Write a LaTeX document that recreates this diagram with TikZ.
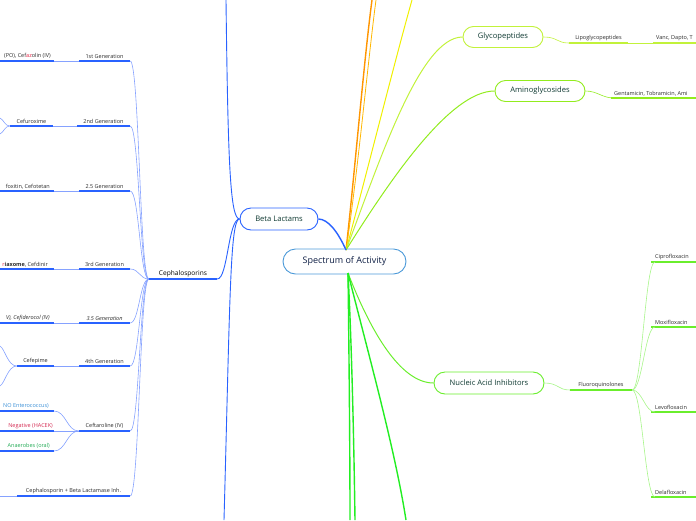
\documentclass[tikz,border=0pt]{standalone}
\usepackage{fontspec}
\setmainfont{Open Sans}
\usepackage{xcolor}
\definecolor{bl}{HTML}{2962FF}
\definecolor{bll}{HTML}{86A2FF}
\definecolor{ctrb}{HTML}{4E9BD9}
\definecolor{navy}{HTML}{0F1F45}
\definecolor{deep}{HTML}{0F3A32}
\definecolor{txt}{HTML}{2A2A2A}
\definecolor{rd}{HTML}{E3193B}
\definecolor{crim}{HTML}{D42A52}
\definecolor{sky}{HTML}{3A8FD6}
\definecolor{grn}{HTML}{22AA55}
\definecolor{org}{HTML}{FF9500}
\definecolor{org2}{HTML}{FFB700}
\definecolor{yel}{HTML}{F0F000}
\definecolor{lime}{HTML}{C2F23A}
\definecolor{amg}{HTML}{92EC1E}
\definecolor{nag}{HTML}{6AEE2C}
\definecolor{fql}{HTML}{A8F58A}
\definecolor{vg}{HTML}{22EE22}
\usetikzlibrary{calc}
\tikzset{
  topic/.style={draw=#1,rounded corners=10.5pt,line width=0.9pt,fill=white,minimum height=21pt,font=\fontsize{7.6}{9}\selectfont,text=deep,inner xsep=4pt},
  topic/.default=bl,
  lab/.style={font=\fontsize{5.5}{6.5}\selectfont,text=txt,anchor=south,inner xsep=0pt,inner ysep=2pt},
  uln/.style={draw=#1,line width=1.4pt},
  uln/.default=bl,
  lnk/.style={draw=#1,line width=0.6pt},
  lnk/.default=bll,
  br/.style={draw=#1,line width=1.4pt},
  br/.default=vg,
}

\begin{document}
\begin{tikzpicture}[x=1pt,y=-1pt]
\useasboundingbox (0,0) rectangle (696,520);
% main topics
\node[topic=ctrb,minimum width=123pt,minimum height=25pt,rounded corners=12.5pt,font=\fontsize{9}{11}\selectfont,text=navy] (ctr) at (344.5,261.5) {Spectrum of Activity};
\node[topic=bl,minimum width=78pt,minimum height=22pt,rounded corners=11pt] (beta) at (279,219) {Beta Lactams};
\node[topic=lime,minimum width=80pt] (gly) at (503,37) {Glycopeptides};
\node[topic=amg,minimum width=90pt] (ami) at (540,91) {Aminoglycosides};
\node[topic=nag,minimum width=110pt,minimum height=22pt,rounded corners=11pt] (nuc) at (489,383) {Nucleic Acid Inhibitors};
% hubs and free ends
\coordinate (hubN) at (346,250);
\coordinate (hubS) at (348,273);
\coordinate (tOr1) at (372,0); \coordinate (tOr2) at (376,0); \coordinate (tYel) at (412,0);
\coordinate (bG1) at (350,520); \coordinate (bG2) at (355,520); \coordinate (bG3) at (406,520);
\coordinate (tBl) at (226,0); \coordinate (bBl) at (224,520);
% cephalosporins
\node[lab,minimum width=68pt,font=\fontsize{6.6}{8}\selectfont,text=black] (ceph) at (183,279) {Cephalosporins};
\node[lab,minimum width=51pt] (g1) at (104.5,61) {1st Generation};
\node[lab,minimum width=53pt] (g2) at (103.5,126) {2nd Generation};
\node[lab,minimum width=51pt] (g25) at (104.5,191) {2.5 Generation};
\node[lab,minimum width=51pt] (g3) at (104.5,269) {3rd Generation};
\node[lab,minimum width=51pt,font=\fontsize{5.5}{6.5}\selectfont\itshape] (g35) at (104.5,323) {3.5 Generation};
\node[lab,minimum width=51pt] (g4) at (104.5,366) {4th Generation};
\node[lab,minimum width=51pt] (g5) at (104.5,431) {Ceftaroline (IV)};
\node[lab,minimum width=113pt] (cbl) at (73.5,496) {Cephalosporin + Beta Lactamase Inh.};
% drugs
\node[lab,anchor=south east] (c1) at (51,61) {(PO), Cef\textcolor{rd}{az}olin (IV)};
\coordinate (c1e) at (54,61);
\node[lab,minimum width=43pt] (cfx) at (31.5,126) {Cefuroxime};
\node[lab,anchor=south east] (c25) at (50,191) {foxitin, Cefotetan};
\coordinate (c25e) at (54,191);
\node[lab,anchor=south east] (c3) at (48,269) {\textcolor{rd}{r}\textbf{iaxome}, Cefdinir};
\coordinate (c3e) at (54,269);
\node[lab,anchor=south east,font=\fontsize{5.5}{6.5}\selectfont\itshape] (c35) at (50,323) {V), Cefiderocol (IV)};
\coordinate (c35e) at (54,323);
\node[lab,minimum width=37pt] (cfp) at (35.5,366) {Cefepime};
\node[lab,anchor=south east,text=sky] (ct1) at (49,411) {NO Enterococcus)};
\coordinate (ct1e) at (54,411);
\node[lab,anchor=south east,text=crim] (ct2) at (53,431) {Negative (HACEK)};
\coordinate (ct2e) at (54,431);
\node[lab,anchor=south east,text=grn] (ct3) at (50,451) {Anaerobes (oral)};
\coordinate (ct3e) at (54,451);
% right side
\node[lab,minimum width=59pt] (lipo) at (598.5,43) {Lipoglycopeptides};
\node[lab,anchor=south west] (vanc) at (656,43) {Vanc, Dapto, T};
\node[lab,anchor=south west] (gent) at (614,98) {Gentamicin, Tobramicin, Ami};
\node[lab,minimum width=62pt] (fq) at (601,390) {Fluoroquinolones};
\node[lab,anchor=south west] (cip) at (655,262) {Ciprofloxacin};
\node[lab,anchor=south west] (mox) at (655,327) {Moxifloxacin};
\node[lab,anchor=south west] (levo) at (655,412) {Levofloxacin};
\node[lab,anchor=south west] (dela) at (655,497) {Delafloxacin};
% underlines
\foreach \n in {ceph,g1,g2,g25,g3,g35,g4,g5,cbl,cfx,cfp}
  \draw[uln] (\n.south west) -- (\n.south east);
\foreach \y in {61,191,269,323,411,431,451}
  \draw[uln] (0,\y) -- (54,\y);
\draw[uln=lime] (lipo.south west) -- (lipo.south east);
\draw[uln=lime] (653,43) -- (696,43);
\draw[uln=amg] (611,98) -- (696,98);
\draw[uln=nag] (fq.south west) -- (fq.south east);
\foreach \y in {262,327,412,497}
  \draw[uln=nag] (651,\y) -- (696,\y);
% connectors from the centre
\draw[br=org] (hubN) .. controls (354,180) and (364,60) .. (tOr1);
\draw[br=org2,line width=0.8pt] (hubN) .. controls (357,180) and (368,60) .. (tOr2);
\draw[br=yel,line width=1pt] (hubN) .. controls (365,180) and (395,60) .. (tYel);
\draw[br=lime,line width=1pt] (hubN) .. controls (380,160) and (420,37) .. (gly.west);
\draw[br=amg,line width=1pt] (hubN) .. controls (390,180) and (450,91) .. (ami.west);
\draw[br=bl] (hubN) .. controls (338,232) and (328,219) .. (beta.east);
\draw[br=nag,line width=1pt] (hubS) .. controls (370,330) and (400,383) .. (nuc.west);
\draw[br] (hubS) .. controls (349,350) and (350,450) .. (bG1);
\draw[br] (hubS) .. controls (352,350) and (354,450) .. (bG2);
\draw[br] (hubS) .. controls (370,360) and (395,450) .. (bG3);
% beta lactams branches
\draw[br=bl,line width=0.9pt] (beta.west) .. controls (230,219) and (228,160) .. (tBl);
\draw[br=bl,line width=0.9pt] (beta.west) .. controls (230,219) and (230,300) .. (bBl);
\draw[br=bl,line width=0.9pt] (beta.west) .. controls (228,219) and (228,279) .. (ceph.south east);
% cephalosporin generations
\foreach \n in {g1,g2,g25,g3,g35,g4,g5,cbl}
  \draw[lnk] (ceph.south west) .. controls +(-9,0) and +(9,0) .. (\n.south east);
\draw[lnk] (g1.south west) -- (c1e);
\draw[lnk] (g2.south west) -- (cfx.south east);
\draw[lnk] (g25.south west) -- (c25e);
\draw[lnk] (g3.south west) -- (c3e);
\draw[lnk] (g35.south west) -- (c35e);
\draw[lnk] (g4.south west) -- (cfp.south east);
\draw[lnk] (g5.south west) .. controls +(-12,0) and +(12,0) .. (ct1e);
\draw[lnk] (g5.south west) -- (ct2e);
\draw[lnk] (g5.south west) .. controls +(-12,0) and +(12,0) .. (ct3e);
\coordinate (cfxU) at (0,118); \coordinate (cfxD) at (0,134);
\coordinate (cfpU) at (0,346); \coordinate (cfpD) at (0,386);
\coordinate (cblL) at (0,496);
\draw[lnk] (cfx.south west) .. controls +(-5,0) and +(4,2) .. (cfxU);
\draw[lnk] (cfx.south west) .. controls +(-5,0) and +(4,-2) .. (cfxD);
\draw[lnk] (cfp.south west) .. controls +(-9,0) and +(5,3) .. (cfpU);
\draw[lnk] (cfp.south west) .. controls +(-9,0) and +(5,-3) .. (cfpD);
\draw[lnk] (cbl.south west) -- (cblL);
% right side links
\draw[lnk=lime] (gly.east) .. controls +(14,0) and +(-12,0) .. (lipo.south west);
\draw[lnk=lime] (lipo.south east) -- (vanc.south west);
\draw[lnk=amg] (ami.east) .. controls +(12,0) and +(-12,0) .. (gent.south west);
\draw[lnk=fql] (nuc.east) .. controls +(14,0) and +(-12,0) .. (fq.south west);
\foreach \n in {cip,mox,levo,dela}
  \draw[lnk=fql] (fq.south east) .. controls +(10,0) and +(-10,0) .. (\n.south west);
\end{tikzpicture}
\end{document}
